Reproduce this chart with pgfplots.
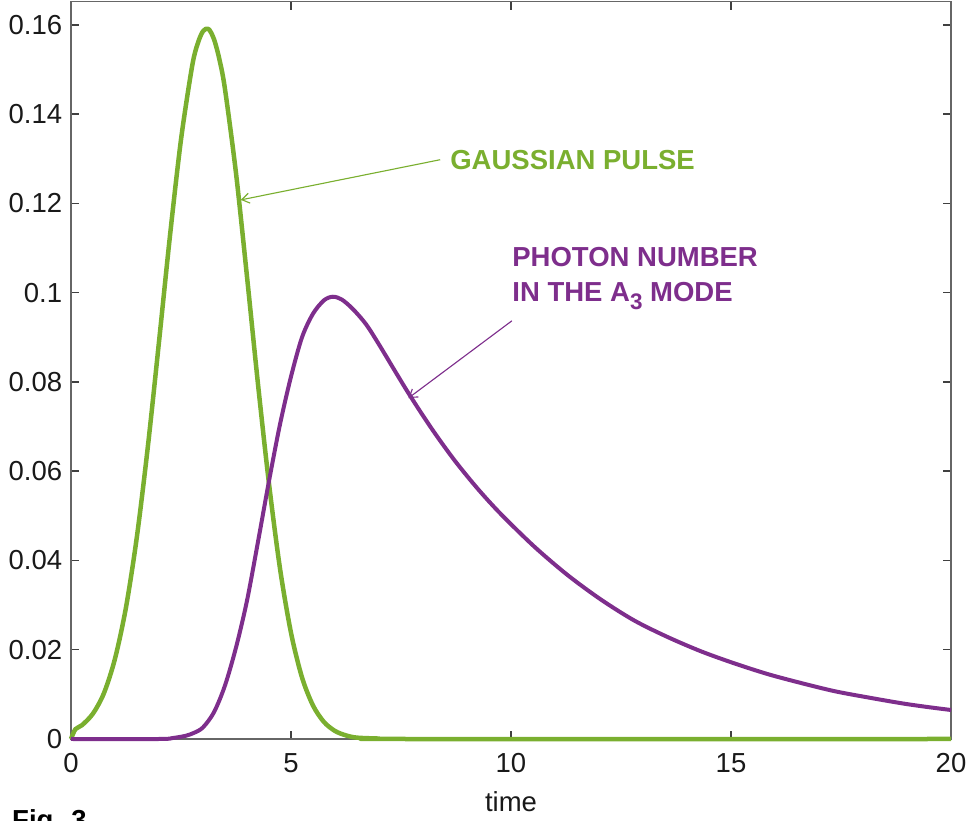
\documentclass[border=0pt]{standalone}
\usepackage{fontspec}
\setmainfont{Liberation Sans}
\usepackage{pgfplots}
\pgfplotsset{compat=1.18}
\usetikzlibrary{arrows.meta}
\definecolor{gr}{HTML}{7AAF2F}
\definecolor{pu}{HTML}{7E2E8C}
\begin{document}
\begin{tikzpicture}
\begin{axis}[
  scale only axis,
  width=352pt, height=294.9pt,
  xmin=0, xmax=20, ymin=0, ymax=0.1652,
  clip=false,
  axis line style={black!60, line width=0.6pt},
  tick style={black!75, line width=0.6pt},
  tick align=inside,
  major tick length=3.2pt,
  xtick={0,5,10,15,20},
  xticklabels={0,5,10,15,20},
  ytick={0,0.02,0.04,0.06,0.08,0.1,0.12,0.14,0.16},
  yticklabels={0,0.02,0.04,0.06,0.08,0.1,0.12,0.14,0.16},
  ticklabel style={font=\fontsize{11}{13}\selectfont, text=black!90},
  xticklabel style={anchor=base, yshift=-13.6pt},
  xlabel={time},
  xlabel style={font=\fontsize{11}{13}\selectfont, text=black!90, at={(axis description cs:0.5,0)}, anchor=base, yshift=-29.1pt},
]
\addplot[gr, line width=1.8pt, smooth, line join=round] coordinates {
(0,0) (0.1,0.0022) (0.25,0.0031) (0.5,0.0057) (0.75,0.0103) (1.0,0.0180)
(1.25,0.0295) (1.5,0.0455) (1.75,0.0658) (2.0,0.0890) (2.25,0.1128)
(2.5,0.1343) (2.75,0.1506) (2.875,0.1557) (3.0,0.1586) (3.125,0.1591)
(3.25,0.1568) (3.375,0.1522) (3.5,0.1456)
(3.75,0.1268) (4.0,0.1036) (4.25,0.0795) (4.5,0.0572)
(4.75,0.0382) (5.0,0.0238) (5.25,0.0138) (5.5,0.0075) (5.75,0.0038)
(6.0,0.0018) (6.25,0.0008) (6.5,0.0003) (7.0,0.0001) (7.5,0) (20,0)
};
\addplot[pu, line width=1.6pt, smooth, line join=round] coordinates {
(0,0) (2.0,0) (2.3,0.0002) (2.6,0.0007) (2.8,0.0014) (3.0,0.0026)
(3.25,0.0060) (3.5,0.0120) (3.75,0.0205) (4.0,0.0310) (4.25,0.0442)
(4.5,0.0578) (4.75,0.0705) (5.0,0.0812) (5.25,0.0900) (5.5,0.0953)
(5.75,0.0983) (5.95,0.0991) (6.15,0.0985) (6.4,0.0964) (6.7,0.0930)
(7.0,0.0884) (7.65,0.0778) (8.2,0.0695) (8.72,0.0624) (9.25,0.0560)
(9.77,0.0504) (10.53,0.0431) (11.29,0.0367) (12.05,0.0312) (12.81,0.0265)
(13.57,0.0228) (14.33,0.0196) (15.09,0.0169) (15.85,0.0145) (16.61,0.0125)
(17.36,0.0107) (18.12,0.0093) (18.88,0.0080) (19.44,0.0072) (20,0.0065)
};
\draw[gr, line width=0.45pt, -{Straight Barb[length=3pt,width=4pt]}] (axis cs:8.39,0.1298) -- (axis cs:3.86,0.1208);
\draw[pu, line width=0.45pt, -{Straight Barb[length=3pt,width=4pt]}] (axis cs:10.02,0.0937) -- (axis cs:7.67,0.0764);
\node[anchor=base west, inner sep=0pt, text=gr, font=\fontsize{11}{13}\selectfont\bfseries] at (axis cs:8.61,0.1277) {GAUSSIAN PULSE};
\node[anchor=base west, inner sep=0pt, text=pu, font=\fontsize{11}{13}\selectfont\bfseries] at (axis cs:10.02,0.1058) {PHOTON NUMBER};
\node[anchor=base west, inner sep=0pt, text=pu, font=\fontsize{11}{13}\selectfont\bfseries] at (axis cs:10.02,0.0980) {IN THE A\raisebox{-3pt}{\fontsize{9}{10}\selectfont 3} MODE};
\node[anchor=base west, inner sep=0pt, font=\fontsize{11}{13}\selectfont\bfseries] at ([xshift=-23.7pt,yshift=-36.4pt]rel axis cs:0,0) {Fig. 3};
\coordinate (bbsw) at (rel axis cs:0,0);
\coordinate (bbne) at (rel axis cs:1,1);
\end{axis}
\pgfresetboundingbox
\path ([xshift=-28.4pt,yshift=-32.8pt]bbsw) rectangle ([xshift=7.2pt,yshift=0.7pt]bbne);
\end{tikzpicture}
\end{document}
